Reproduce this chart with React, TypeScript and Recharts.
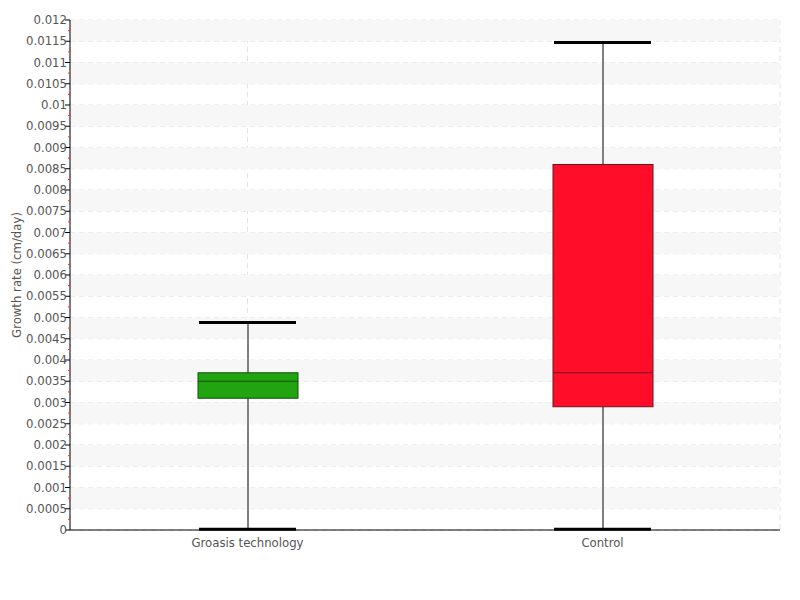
import React from 'react';
import { ComposedChart, Bar, XAxis, YAxis, CartesianGrid, ReferenceArea } from 'recharts';

const categories = ['Groasis technology', 'Control'];
const mins = [0.00002, 0.00002];
const q1s = [0.0031, 0.0029];
const medians = [0.0035, 0.0037];
const q3s = [0.0037, 0.0086];
const maxs = [0.00488, 0.01147];
const fills = ['#22a310', '#ff0d29'];
const strokes = ['#15520b', '#6e1520'];
const yTicks = Array.from({ length: 25 }, (_, i) => +(i * 0.0005).toFixed(4));

const FONT = "'DejaVu Sans', sans-serif";

const data = categories.map((c, i) => ({
  name: c,
  range: [mins[i], maxs[i]],
  q1: q1s[i],
  median: medians[i],
  q3: q3s[i],
  min: mins[i],
  max: maxs[i],
  fill: fills[i],
  stroke: strokes[i],
}));

const BoxShape = (props: any) => {
  const { x, y, width, height, payload } = props;
  const lo = payload.min;
  const hi = payload.max;
  const py = (v: number) => y + (height * (hi - v)) / (hi - lo);
  const cx = x + width / 2;
  const yq1 = py(payload.q1);
  const yq3 = py(payload.q3);
  const ymed = py(payload.median);
  return (
    <g>
      <line x1={cx} x2={cx} y1={y} y2={y + height} stroke="#808080" strokeWidth={2} />
      <line x1={x + 1} x2={x + width - 2} y1={y} y2={y} stroke="#000" strokeWidth={3} />
      <line x1={x + 1} x2={x + width - 2} y1={y + height} y2={y + height} stroke="#000" strokeWidth={3} />
      <rect x={x} y={yq3} width={width} height={yq1 - yq3} fill={payload.fill} stroke={payload.stroke} strokeWidth={1} />
      <line x1={x} x2={x + width} y1={ymed} y2={ymed} stroke={payload.stroke} strokeWidth={1.2} />
    </g>
  );
};

const YTick = (props: any) => {
  const { x, y, payload, height } = props;
  const half = (height || 510) / 48;
  const fmt = payload.value === 0 ? '0' : String(payload.value);
  return (
    <g>
      <text x={x + 4} y={y} dy={4} textAnchor="end" fill="#555" fontSize={13} fontFamily={FONT} style={{ fontStretch: 'condensed' }}>
        {fmt}
      </text>
      {payload.value > 0 && (
        <line x1={x + 5} x2={x + 7.5} y1={y + half} y2={y + half} stroke="#ff3030" strokeWidth={1} />
      )}
    </g>
  );
};

const XTick = (props: any) => {
  const { x, y, payload } = props;
  return (
    <text x={x} y={y} dy={9} textAnchor="middle" fill="#555" fontSize={13} fontFamily={FONT} style={{ fontStretch: 'condensed' }}>
      {payload.value}
    </text>
  );
};

const bands = yTicks.slice(0, -1).map((t, i) => ({ y1: t, y2: yTicks[i + 1], odd: i % 2 === 1 })).filter(b => b.odd);

export default function App() {
  return (
    <div style={{ width: 784, height: 584 }}>
      <ComposedChart width={784} height={584} data={data} margin={{ top: 12, right: 12, bottom: 32, left: 2 }}>
        {bands.map((b, i) => (
          <ReferenceArea key={i} y1={b.y1} y2={b.y2} fill="#f7f7f7" fillOpacity={1} stroke="none" ifOverflow="visible" />
        ))}
        <CartesianGrid stroke="#e2e2e2" strokeDasharray="5 4" vertical={true} />
        <XAxis
          dataKey="name"
          type="category"
          axisLine={{ stroke: '#000' }}
          tickLine={false}
          tick={<XTick />}
          height={30}
        />
        <YAxis
          type="number"
          domain={[0, 0.012]}
          ticks={yTicks}
          interval={0}
          width={60}
          axisLine={{ stroke: '#000' }}
          tickLine={{ stroke: '#000' }}
          tickSize={5}
          tick={<YTick />}
          label={{
            value: 'Growth rate (cm/day)',
            angle: -90,
            position: 'insideLeft',
            offset: 6,
            style: { fill: '#555', fontSize: 13, fontFamily: FONT, fontStretch: 'condensed', textAnchor: 'middle' },
          }}
        />
        <Bar dataKey="range" barSize={100} shape={<BoxShape />} isAnimationActive={false} />
      </ComposedChart>
    </div>
  );
}
